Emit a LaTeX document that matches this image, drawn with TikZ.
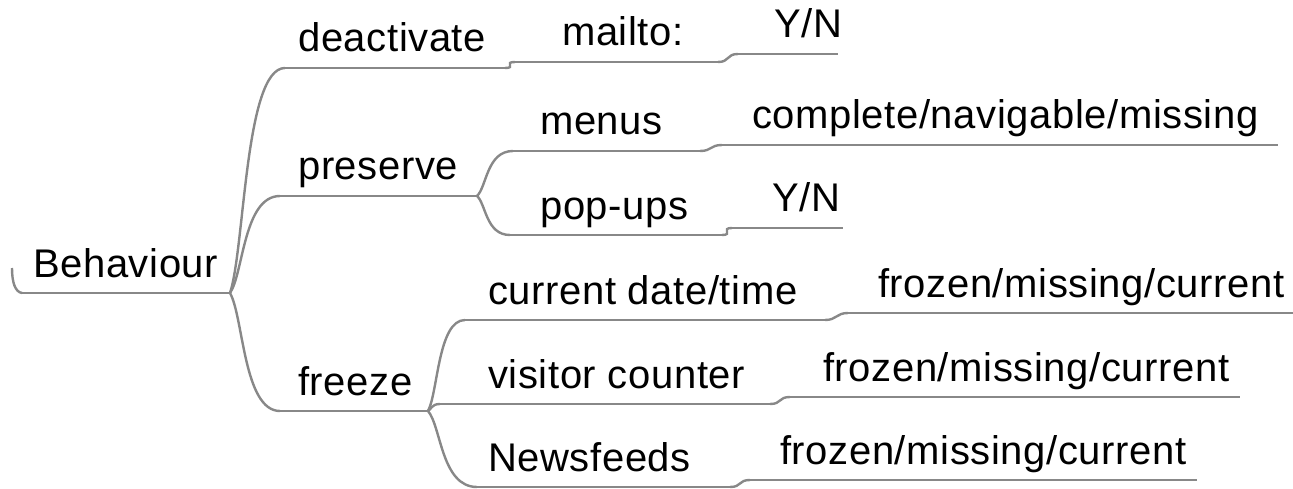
\documentclass[tikz,border=0pt]{standalone}
\usepackage{fontspec}
\setmainfont{Liberation Sans}[LetterSpace=1.5]
\usetikzlibrary{calc}
\definecolor{linegray}{HTML}{888888}
\tikzset{
  lbl/.style={inner sep=0pt, anchor=base west, font=\fontsize{40}{48}\selectfont, text=black},
  ul/.style={draw=linegray, line width=2.6pt},
  conn/.style={draw=linegray, line width=2.4pt},
}
% \mmnode{name}{text x}{underline left}{underline right}{underline y}{text}
\newcommand\mmnode[6]{%
  \node[lbl] (#1) at (#2,#5-16) {#6};
  \coordinate (#1-l) at (#3,#5);
  \coordinate (#1-r) at (#4,#5);
  \draw[ul] (#1-l) -- (#1-r);
}
\newcommand\forkline[2]{%
  \draw[conn] let \p1=(#1), \p2=(#2) in
    (\p1) .. controls ({\x1+0.27*(\x2-\x1)},{\y1+0.2*(\y2-\y1)})
              and ({\x1+0.27*(\x2-\x1)},\y2) .. (\p2);
}
\newcommand\stepline[2]{%
  \draw[conn] (#1) .. controls +(12,0) and +(-12,0) .. (#2);
}
\begin{document}
\begin{tikzpicture}[x=1pt,y=-1pt]
\useasboundingbox[fill=white] (0,0) rectangle (1293,489);
\mmnode{beh}{33}{22}{230}{293}{Behaviour}
\mmnode{deact}{298}{285}{505}{68}{deactivate}
\mmnode{mailto}{562}{515}{718}{62}{mailto:}
\mmnode{yn1}{774}{738}{838}{54}{Y/N}
\mmnode{pres}{298}{280}{477}{196}{preserve}
\mmnode{menus}{540}{513}{700}{151}{menus}
\mmnode{compl}{752}{722}{1278}{145}{complete/navigable/missing}
\mmnode{popups}{540}{510}{722}{235}{pop-ups}
\mmnode{yn2}{772}{732}{843}{228}{Y/N}
\mmnode{freeze}{298}{280}{428}{411}{freeze}
\mmnode{cdt}{488}{465}{825}{320}{current date/time}
\mmnode{fr1}{878}{848}{1293}{313}{frozen/missing/current}
\mmnode{vis}{488}{440}{770}{404}{visitor counter}
\mmnode{fr2}{823}{790}{1240}{397}{frozen/missing/current}
\mmnode{news}{488}{477}{730}{487}{Newsfeeds}
\mmnode{fr3}{780}{750}{1197}{480}{frozen/missing/current}
\coordinate (curl) at (12,268);
\draw[conn] (beh-l) .. controls (15,292) and (12,282) .. (curl);
\forkline{beh-r}{deact-l}
\forkline{beh-r}{pres-l}
\forkline{beh-r}{freeze-l}
\forkline{pres-r}{menus-l}
\forkline{pres-r}{popups-l}
\forkline{freeze-r}{cdt-l}
\forkline{freeze-r}{vis-l}
\forkline{freeze-r}{news-l}
\stepline{deact-r}{mailto-l}
\stepline{mailto-r}{yn1-l}
\stepline{menus-r}{compl-l}
\stepline{popups-r}{yn2-l}
\stepline{cdt-r}{fr1-l}
\stepline{vis-r}{fr2-l}
\stepline{news-r}{fr3-l}
\end{tikzpicture}
\end{document}
